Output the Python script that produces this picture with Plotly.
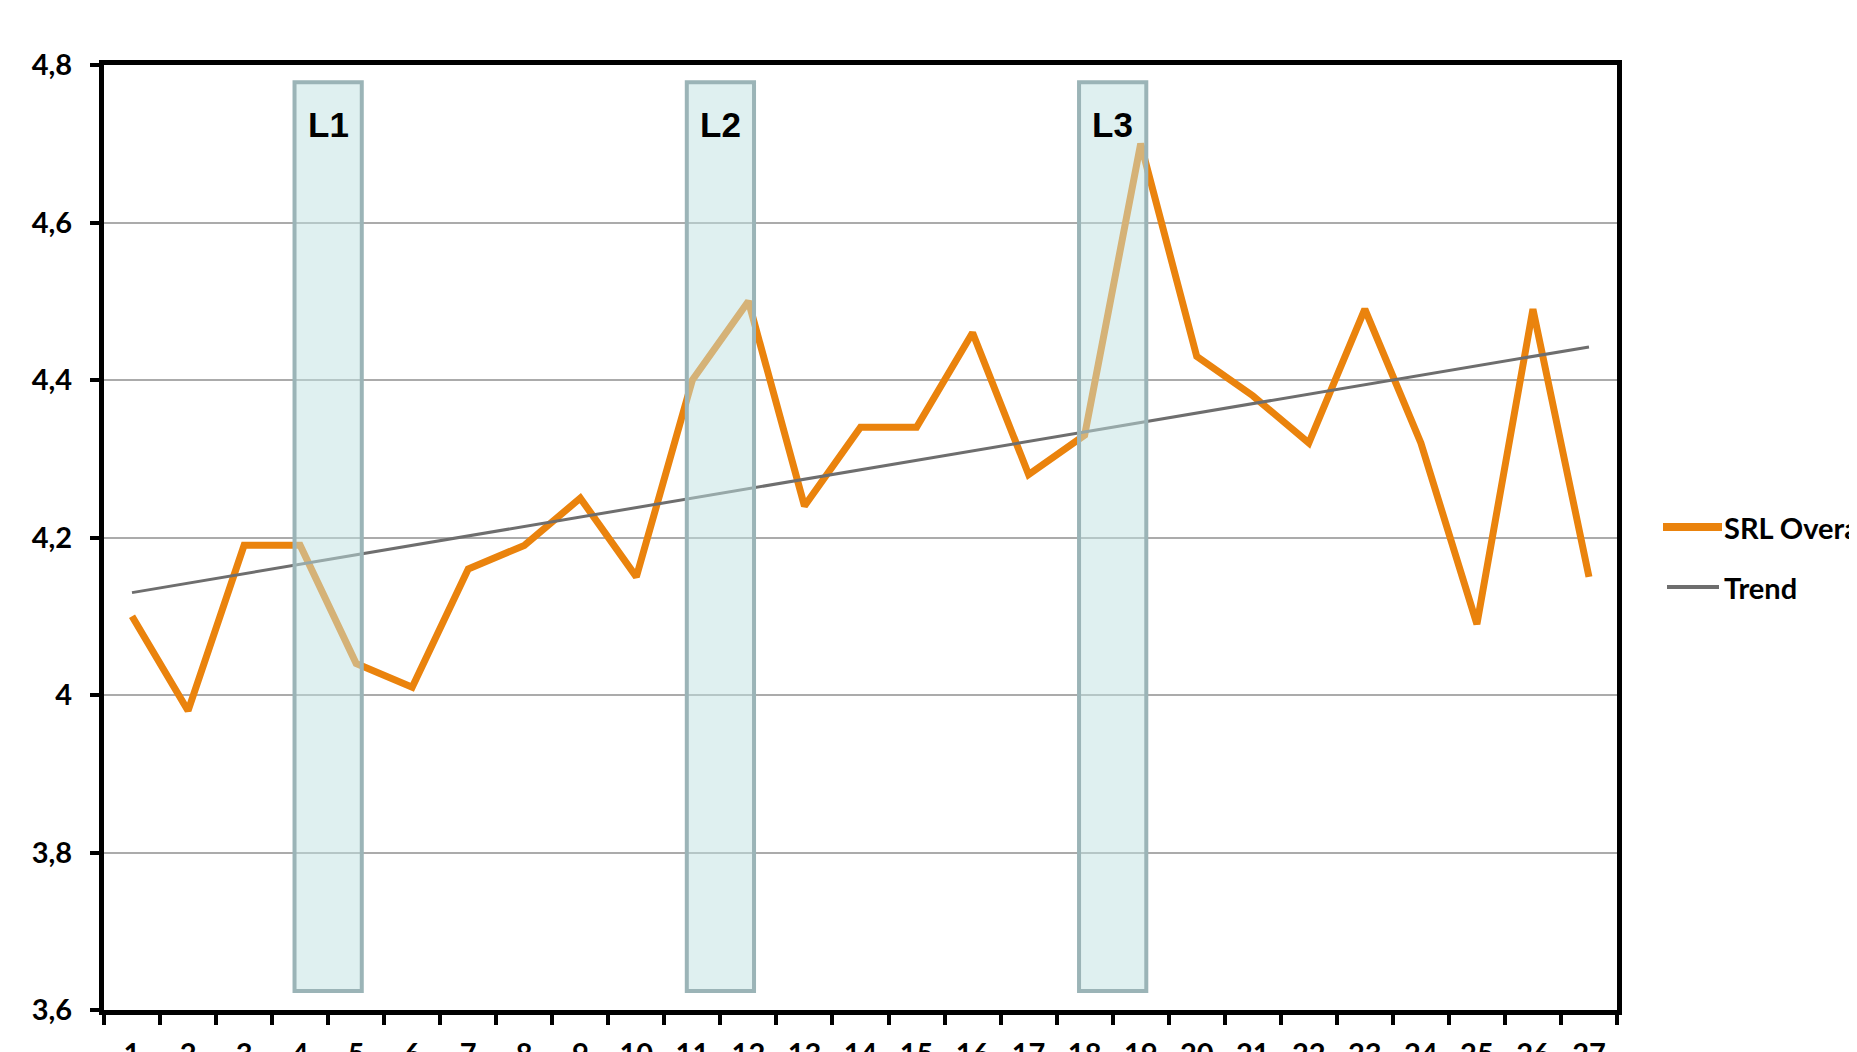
import plotly.graph_objects as go

# ---- data ----
categories = [str(i) for i in range(1, 28)]
srl_overall = [4.10, 3.98, 4.19, 4.19, 4.04, 4.01, 4.16, 4.19, 4.25, 4.15,
               4.40, 4.50, 4.24, 4.34, 4.34, 4.46, 4.28, 4.33, 4.70, 4.43,
               4.38, 4.32, 4.49, 4.32, 4.09, 4.49, 4.15]
trend_x = ["1", "27"]
trend_y = [4.13, 4.442]
y_tick_vals = [3.6, 3.8, 4.0, 4.2, 4.4, 4.6, 4.8]
y_tick_text = ["3,6", "3,8", "4", "4,2", "4,4", "4,6", "4,8"]
phase_labels = ["L1", "L2", "L3"]
phase_start = [3.9, 10.9, 17.9]   # category position (1-based)
phase_end = [5.1, 12.1, 19.1]
phase_top = 4.778
phase_bottom = 3.624
phase_label_y = 4.725

ORANGE = "#EA830D"
TICK_FONT = dict(family="Lato, 'Open Sans', sans-serif", size=29, color="black")

ML, MR, MT, MB = 96, 248, 57, 50
W_PLOT = 1857.0 - ML - MR
H_PLOT = 1052.0 - MT - MB

fig = go.Figure()
fig.add_trace(go.Scatter(x=categories, y=srl_overall, mode="lines",
                         line=dict(color=ORANGE, width=7), name="SRL Overall",
                         showlegend=False))
fig.add_trace(go.Scatter(x=trend_x, y=trend_y, mode="lines",
                         line=dict(color="#6E6E6E", width=3), name="Trend",
                         showlegend=False))

for lab, s, e in zip(phase_labels, phase_start, phase_end):
    fig.add_shape(type="rect", xref="x", yref="y", x0=s - 1, x1=e - 1,
                  y0=phase_bottom, y1=phase_top, layer="above",
                  fillcolor="rgba(191,226,226,0.5)",
                  line=dict(color="#9BB4B7", width=4))
    fig.add_annotation(x=(s + e) / 2 - 1, y=phase_label_y, xref="x", yref="y",
                       text="<b>%s</b>" % lab, showarrow=False,
                       font=dict(family="Liberation Sans, Arial, sans-serif",
                                 size=35, color="black"))

# manual legend (page pixel -> paper coordinates; page has an 8px body margin)
def px(xp):
    return (xp - 8 - ML) / W_PLOT
def py(yp):
    return (1052 + 8 - MB - yp) / H_PLOT

legend_items = [("SRL Overall", ORANGE, 8, 527, 1663, 1722),
                ("Trend", "#6E6E6E", 4, 587, 1667, 1719)]
for name, col, wd, ypix, xa, xb in legend_items:
    fig.add_shape(type="line", xref="paper", yref="paper",
                  x0=px(xa), x1=px(xb), y0=py(ypix), y1=py(ypix),
                  line=dict(color=col, width=wd))
    fig.add_annotation(x=px(1722), y=py(ypix), xref="paper", yref="paper",
                       xanchor="left", yanchor="middle", showarrow=False,
                       text="<b>%s</b>" % name,
                       font=dict(family="Lato, 'Open Sans', sans-serif",
                                 size=29, color="black"))

fig.update_layout(
    width=1857, height=1052,
    margin=dict(l=ML, r=MR, t=MT, b=MB, autoexpand=False),
    plot_bgcolor="white", paper_bgcolor="white",
    showlegend=False,
    xaxis=dict(type="category", categoryorder="array", categoryarray=categories,
               range=[-0.5, 26.5], tickson="boundaries",
               showline=True, linecolor="black", linewidth=5, mirror=True,
               ticks="outside", ticklen=10, tickwidth=4, tickcolor="black",
               showgrid=False, tickfont=TICK_FONT, ticklabelstandoff=14,
               tickprefix="<b>", ticksuffix="</b>"),
    yaxis=dict(range=[3.6, 4.8], tickvals=y_tick_vals,
               ticktext=["<b>%s</b>" % t for t in y_tick_text],
               showline=True, linecolor="black", linewidth=5, mirror=True,
               ticks="outside", ticklen=9, tickwidth=4, tickcolor="black",
               showgrid=True, gridcolor="#ABABAB", gridwidth=2,
               zeroline=False, tickfont=TICK_FONT, ticklabelstandoff=12),
)

fig.write_html("out.html")
